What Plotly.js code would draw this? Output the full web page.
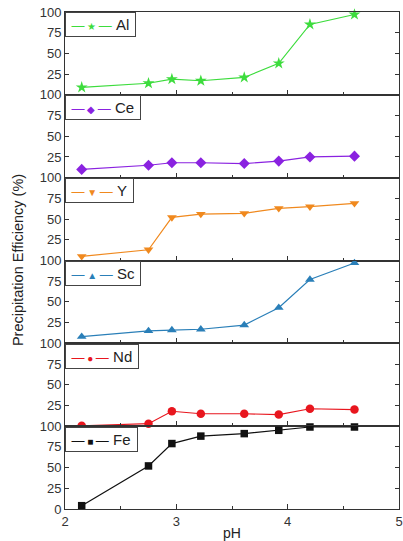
<!DOCTYPE html>
<html><head><meta charset="utf-8">
<script src="https://cdn.plot.ly/plotly-3.0.1.min.js"></script>
<style>html,body{margin:0;padding:0;background:#fff}#c{width:403px;height:541px}</style>
</head><body><div id="c"></div>
<script>
const pH = [2.15, 2.75, 2.96, 3.22, 3.61, 3.92, 4.2, 4.6];
const Al = [9, 14, 19, 17, 21, 38, 85, 97];
const Ce = [10, 15, 18, 18, 17, 20, 25, 26];
const Yv = [5, 13, 52, 56, 57, 63, 65, 69];
const Sc = [8, 15, 16, 17, 22, 43, 77, 97];
const Nd = [0.5, 3, 18, 15, 15, 14, 21, 20];
const Fe = [4, 52, 79, 88, 91, 95, 99, 99];
const names = ['Al', 'Ce', 'Y', 'Sc', 'Nd', 'Fe'];
const series = [Al, Ce, Yv, Sc, Nd, Fe];
const colors = ['#3ddc3d', '#8a22e0', '#f0891e', '#2a7fb8', '#e8161e', '#111111'];
const symbols = ['star', 'diamond', 'triangle-down', 'triangle-up', 'circle', 'square'];
const glyphs = ['★', '◆', '▼', '▲', '●', '■'];
const msizes = [9, 8.5, 8.5, 8.5, 8.5, 7.5];

const n = 6;
const traces = [];
const layout = {
  width: 403, height: 541,
  margin: {l: 65, r: 4, t: 12, b: 32},
  paper_bgcolor: '#fff', plot_bgcolor: '#fff',
  font: {family: 'Liberation Sans, Arial, sans-serif', size: 13, color: '#333'},
  showlegend: false,
  annotations: [
    {text: 'Precipitation Efficiency (%)', xref: 'paper', yref: 'paper', x: -0.142, y: 0.5,
     textangle: -90, showarrow: false, font: {size: 14.5, color: '#222'}, xanchor: 'center', yanchor: 'middle'}
  ]
};
const hs = '\u2009', nb = '\u00a0';
for (let i = 0; i < n; i++) {
  const k = i === 0 ? '' : String(i + 1);
  traces.push({
    x: pH, y: series[i], name: names[i], type: 'scatter', mode: 'lines+markers',
    xaxis: 'x' + k, yaxis: 'y' + k, cliponaxis: false,
    line: {color: colors[i], width: 1.2},
    marker: {symbol: symbols[i], size: msizes[i], color: colors[i]}
  });
  const top = 1 - i / n, bot = 1 - (i + 1) / n;
  const last = i === n - 1;
  layout['yaxis' + k] = {
    domain: [bot, top], range: [0, 100], anchor: 'x' + k,
    tickvals: last ? [0, 25, 50, 75, 100] : [25, 50, 75, 100],
    ticks: 'inside', ticklen: 4, tickcolor: '#333', mirror: 'ticks',
    showline: true, linecolor: '#333', linewidth: 1, showgrid: false, zeroline: false,
    tickfont: {size: 13, color: '#333'}, fixedrange: true
  };
  layout['xaxis' + k] = {
    range: [2, 5], anchor: 'y' + k, domain: [0, 1],
    tickvals: [2, 3, 4, 5], ticks: 'inside', ticklen: 5, tickcolor: '#333',
    minor: {tickvals: [2.5, 3.5, 4.5], ticks: 'inside', ticklen: 3, tickcolor: '#333'},
    showticklabels: last, showline: true, linecolor: '#333', linewidth: 1, mirror: true,
    showgrid: false, zeroline: false, tickfont: {size: 13, color: '#333'}, fixedrange: true
  };
  if (!last) layout['xaxis' + k].matches = 'x' + String(n);
  layout.annotations.push({
    text: '<span style="font-size:13px;color:' + colors[i] + '">' + hs + '—' + hs + '<span style="font-size:10px">' + glyphs[i] + '</span>' + hs + '—</span>' + nb + names[i] + hs,
    xref: 'paper', yref: 'paper', x: 0.0, y: top - 0.001, xanchor: 'left', yanchor: 'top',
    showarrow: false, bgcolor: '#fff', bordercolor: '#444', borderwidth: 1, borderpad: 3,
    font: {size: 15, color: '#222'}
  });
}
layout['xaxis' + n].title = {text: 'pH', font: {size: 14, color: '#222'}, standoff: 2};
Plotly.newPlot('c', traces, layout, {displayModeBar: false, staticPlot: true});
</script>
</body></html>
